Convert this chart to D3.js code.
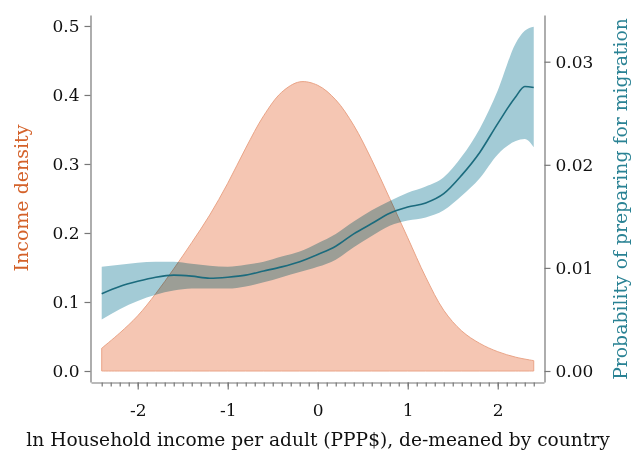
<!DOCTYPE html>
<html>
<head>
<meta charset="utf-8">
<script src="https://cdn.jsdelivr.net/npm/d3@7"></script>
<style>
  html, body { margin: 0; padding: 0; background: #fff; }
  svg { display: block; }
</style>
</head>
<body>
<svg id="chart" width="635" height="450"></svg>
<script>
// ---------- data ----------
const densityX = [-2.4,-2.2,-2.0,-1.8,-1.6,-1.4,-1.2,-1.0,-0.8,-0.6,-0.4,-0.2,0.0,0.2,0.4,0.6,0.8,1.0,1.2,1.4,1.6,1.8,2.0,2.2,2.4];
const densityY = [0.033,0.055,0.080,0.112,0.148,0.186,0.226,0.272,0.323,0.370,0.404,0.419,0.414,0.393,0.356,0.306,0.250,0.193,0.136,0.088,0.058,0.040,0.028,0.020,0.015];

const probX    = [-2.4,-2.2,-2.0,-1.8,-1.6,-1.4,-1.2,-1.0,-0.8,-0.6,-0.4,-0.2,0.0,0.2,0.4,0.6,0.8,1.0,1.2,1.4,1.6,1.8,2.0,2.2,2.3,2.4];
const probMean = [0.0075,0.0082,0.0087,0.0091,0.0093,0.0092,0.0090,0.0091,0.0093,0.0097,0.0101,0.0106,0.0113,0.0121,0.0133,0.0143,0.0153,0.0159,0.0163,0.0172,0.0190,0.0212,0.0240,0.0266,0.0276,0.0275];
const probLow  = [0.0050,0.0060,0.0068,0.0074,0.0078,0.0080,0.0080,0.0080,0.0082,0.0086,0.0091,0.0096,0.0101,0.0108,0.0120,0.0131,0.0141,0.0146,0.0149,0.0156,0.0170,0.0187,0.0210,0.0223,0.0225,0.0217];
const probHigh = [0.0101,0.0103,0.0105,0.0106,0.0106,0.0104,0.0102,0.0101,0.0103,0.0106,0.0111,0.0116,0.0124,0.0133,0.0145,0.0156,0.0165,0.0173,0.0179,0.0188,0.0208,0.0235,0.0272,0.0318,0.0330,0.0334];

const xTickValues = [-2,-1,0,1,2];
const leftTickValues = [0.0,0.1,0.2,0.3,0.4,0.5];
const rightTickValues = [0.00,0.01,0.02,0.03];
const xMinorTicks = d3.range(-24, 25).map(d => d / 10);

const xTitle = "ln Household income per adult (PPP$), de-meaned by country";
const leftTitle = "Income density";
const rightTitle = "Probability of preparing for migration";

// ---------- layout ----------
const svg = d3.select("#chart");
const FONT = "DejaVu Serif, Liberation Serif, serif";
const axisColor = "#777";

const x = d3.scaleLinear().domain([-2.519, 2.514]).range([91, 544]);
const yL = d3.scaleLinear().domain([-0.01594, 0.5159]).range([382, 15]);
const yR = d3.scaleLinear().domain([-0.001067, 0.03453]).range([382, 15]);

// density area
const dens = densityX.map((d, i) => ({x: d, y: densityY[i]}));
svg.append("path")
  .datum(dens)
  .attr("fill", "#f5c6b3")
  .attr("stroke", "#eaa487")
  .attr("stroke-width", 1)
  .attr("d", d3.area().curve(d3.curveCatmullRom)
    .x(d => x(d.x)).y0(yL(0)).y1(d => yL(d.y)));

// confidence band
const prob = probX.map((d, i) => ({x: d, m: probMean[i], lo: probLow[i], hi: probHigh[i]}));
svg.append("path")
  .datum(prob)
  .attr("fill", "#a3cbd6")
  .style("mix-blend-mode", "multiply")
  .attr("d", d3.area().curve(d3.curveMonotoneX)
    .x(d => x(d.x)).y0(d => yR(d.lo)).y1(d => yR(d.hi)));

// mean line
svg.append("path")
  .datum(prob)
  .attr("fill", "none")
  .attr("stroke", "#1b6b7d")
  .attr("stroke-width", 1.6)
  .attr("d", d3.line().curve(d3.curveMonotoneX)
    .x(d => x(d.x)).y(d => yR(d.m)));

// ---------- axes ----------
function styleAxis(g) {
  g.selectAll(".domain").attr("stroke", axisColor).attr("stroke-width", 1.2);
  g.selectAll(".tick line").attr("stroke", axisColor).attr("stroke-width", 1.2);
  g.selectAll(".tick text").attr("fill", "#111").attr("font-family", FONT).attr("font-size", 17);
}

// minor x ticks
svg.append("g")
  .attr("transform", "translate(0,382.5)")
  .call(d3.axisBottom(x).tickValues(xMinorTicks).tickSize(4).tickFormat("").tickSizeOuter(0))
  .call(g => { g.selectAll(".domain").remove(); g.selectAll(".tick line").attr("stroke", axisColor).attr("stroke-width", 1.2); });

// major x axis
const gx = svg.append("g")
  .attr("transform", "translate(0,382.5)")
  .call(d3.axisBottom(x).tickValues(xTickValues).tickSize(7).tickSizeOuter(0).tickFormat(d3.format("d")).tickPadding(14))
  .call(styleAxis);
gx.selectAll(".tick text").text(d => String(d));

const gl = svg.append("g")
  .attr("transform", "translate(90.5,0)")
  .call(d3.axisLeft(yL).tickValues(leftTickValues).tickSize(6).tickSizeOuter(0).tickFormat(d3.format(".1f")).tickPadding(5))
  .call(styleAxis);

const gr = svg.append("g")
  .attr("transform", "translate(544.5,0)")
  .call(d3.axisRight(yR).tickValues(rightTickValues).tickSize(6).tickSizeOuter(0).tickFormat(d3.format(".2f")).tickPadding(5))
  .call(styleAxis);

// ---------- titles ----------
function fitWidth(sel, target) {
  const w = sel.node().getComputedTextLength();
  const fs = +sel.attr("font-size");
  sel.attr("font-size", fs * target / w);
}

const xt = svg.append("text")
  .attr("x", 318).attr("y", 446)
  .attr("text-anchor", "middle")
  .attr("font-family", FONT).attr("font-size", 18)
  .attr("fill", "#111")
  .text(xTitle);
fitWidth(xt, 584);

const lt = svg.append("text")
  .attr("transform", "translate(28,198) rotate(-90)")
  .attr("text-anchor", "middle")
  .attr("font-family", FONT).attr("font-size", 18)
  .attr("fill", "#d4622a")
  .text(leftTitle);
fitWidth(lt, 147);

const rt = svg.append("text")
  .attr("transform", "translate(627,199) rotate(-90)")
  .attr("text-anchor", "middle")
  .attr("font-family", FONT).attr("font-size", 18)
  .attr("fill", "#2a8294")
  .text(rightTitle);
fitWidth(rt, 362);
</script>
</body>
</html>
